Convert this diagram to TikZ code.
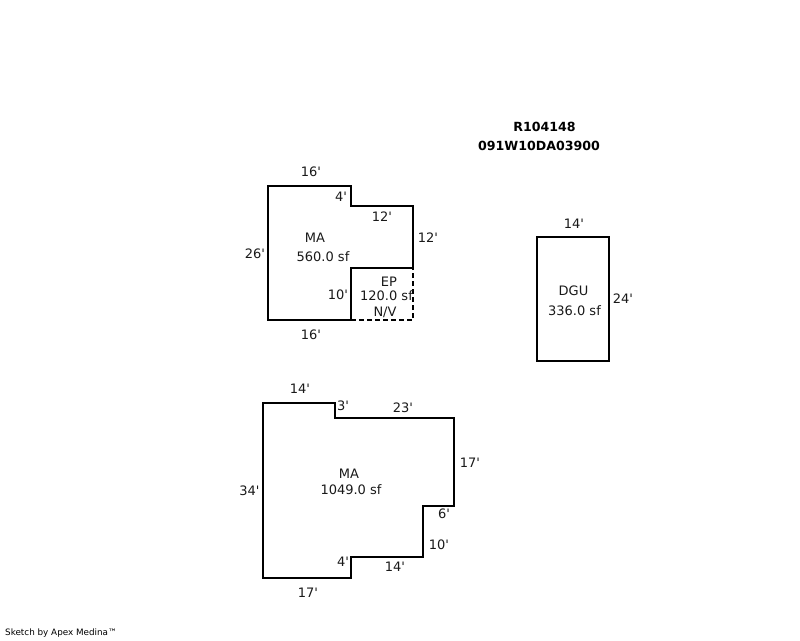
\documentclass[tikz,border=0pt]{standalone}
\usepackage{fontspec}
\setmainfont[Ligatures=TeXOff]{DejaVu Sans}
\tikzset{
  wall/.style={draw=black,line width=2.2pt,line join=miter},
  openwall/.style={draw=black,line width=2.2pt,dash pattern=on 5pt off 3pt},
  lbl/.style={inner sep=0pt,font=\fontsize{13}{15}\selectfont,text=black!90},
  head/.style={inner sep=0pt,font=\fontsize{12.6}{14}\bfseries\selectfont,text=black},
  foot/.style={inner sep=0pt,font=\fontsize{8.8}{10}\selectfont,text=black,anchor=west}
}
\begin{document}
\begin{tikzpicture}[x=1pt,y=-1pt]
\useasboundingbox (0,0) rectangle (800,640);
% upper MA
\coordinate (a1) at (268,186);\coordinate (a2) at (351,186);\coordinate (a3) at (351,206);\coordinate (a4) at (413,206);
\coordinate (a5) at (413,268);\coordinate (a6) at (351,268);\coordinate (a7) at (351,320);\coordinate (a8) at (268,320);\coordinate (a9) at (413,320);
\draw[openwall] (a7) -- (a9) -- (a5);
\draw[wall] (a1) -- (a2) -- (a3) -- (a4) -- (a5) -- (a6) -- (a7) -- (a8) -- cycle;
% DGU
\coordinate (d1) at (537,237);\coordinate (d2) at (609,361);
\draw[wall] (d1) rectangle (d2);
% lower MA
\coordinate (b1) at (263,403);\coordinate (b2) at (335,403);\coordinate (b3) at (335,418);\coordinate (b4) at (454,418);
\coordinate (b5) at (454,506);\coordinate (b6) at (423,506);\coordinate (b7) at (423,557);\coordinate (b8) at (351,557);
\coordinate (b9) at (351,578);\coordinate (b10) at (263,578);
\draw[wall] (b1) -- (b2) -- (b3) -- (b4) -- (b5) -- (b6) -- (b7) -- (b8) -- (b9) -- (b10) -- cycle;
% headers
\node[head] (h1) at (544.5,126.5) {R104148};
\node[head] (h2) at (539,145.5) {091W10DA03900};
% upper labels
\node[lbl] (t1) at (311,171.5) {16'};
\node[lbl] (t2) at (341,196.5) {4'};
\node[lbl] (t3) at (382,216.5) {12'};
\node[lbl] (t4) at (428,237.5) {12'};
\node[lbl] (t5) at (255,253.5) {26'};
\node[lbl] (t6) at (338,294.5) {10'};
\node[lbl] (t7) at (311,334.5) {16'};
\node[lbl] (t8) at (315,237.5) {MA};
\node[lbl] (t9) at (323,256.5) {560.0 sf};
\node[lbl] (t10) at (389,281.5) {EP};
\node[lbl] (t11) at (386.5,295.5) {120.0 sf};
\node[lbl] (t12) at (385,312.5) {N/V};
% DGU labels
\node[lbl] (g1) at (574,223.5) {14'};
\node[lbl] (g2) at (623,298.5) {24'};
\node[lbl] (g3) at (573.5,290.5) {DGU};
\node[lbl] (g4) at (574.5,310.5) {336.0 sf};
% lower labels
\node[lbl] (l1) at (300,388.5) {14'};
\node[lbl] (l2) at (343,405.5) {3'};
\node[lbl] (l3) at (403,407.5) {23'};
\node[lbl] (l4) at (470,462.5) {17'};
\node[lbl] (l5) at (249.5,490.5) {34'};
\node[lbl] (l7) at (349,473.5) {MA};
\node[lbl] (l8) at (351,489.5) {1049.0 sf};
\node[lbl] (l9) at (444,513.5) {6'};
\node[lbl] (l10) at (439,544.5) {10'};
\node[lbl] (l11) at (343,561.5) {4'};
\node[lbl] (l12) at (395,566.5) {14'};
\node[lbl] (l13) at (308,592.5) {17'};
\node[foot] (f) at (5,633) {Sketch by Apex Medina™};
\end{tikzpicture}
\end{document}
